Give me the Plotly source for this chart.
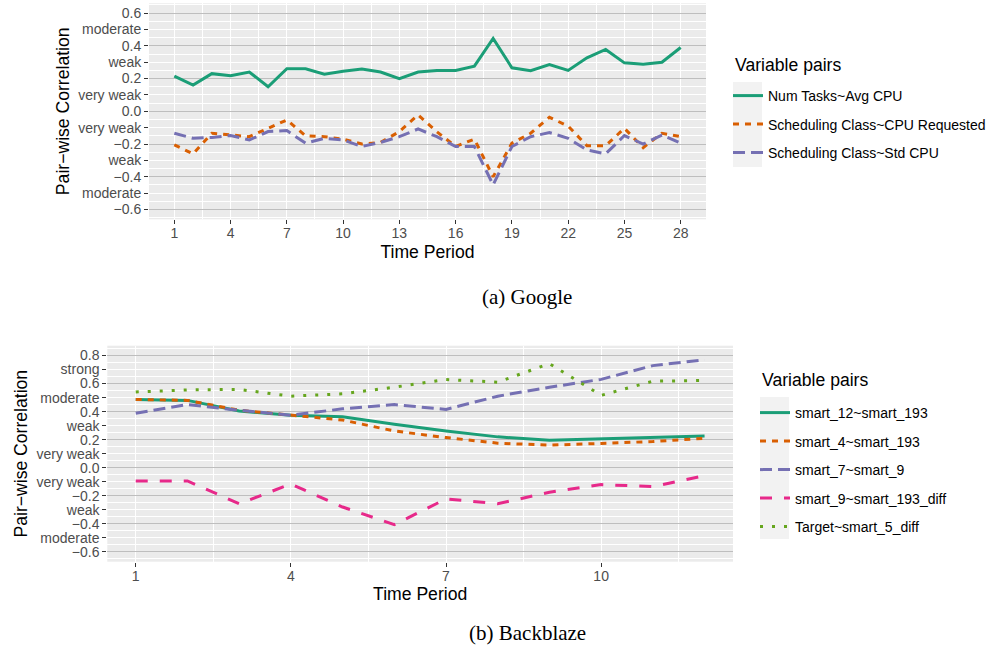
import plotly.graph_objects as go

# ---------------- data ----------------
google_periods = list(range(1, 29))
google_tasks_avg_cpu = [0.215, 0.16, 0.23, 0.217, 0.24, 0.15, 0.26, 0.26, 0.227, 0.245,
                        0.258, 0.24, 0.20, 0.24, 0.25, 0.25, 0.276, 0.445, 0.266, 0.248,
                        0.286, 0.25, 0.327, 0.378, 0.296, 0.288, 0.30, 0.39]
google_sched_cpu_req = [-0.205, -0.26, -0.134, -0.145, -0.155, -0.104, -0.053, -0.15, -0.155, -0.17,
                        -0.2, -0.19, -0.124, -0.022, -0.125, -0.215, -0.17, -0.4, -0.195, -0.134,
                        -0.037, -0.09, -0.21, -0.21, -0.104, -0.222, -0.134, -0.155]
google_sched_std_cpu = [-0.134, -0.165, -0.16, -0.148, -0.175, -0.124, -0.118, -0.195, -0.165, -0.175,
                        -0.215, -0.19, -0.155, -0.108, -0.155, -0.215, -0.215, -0.45, -0.215, -0.155,
                        -0.13, -0.165, -0.236, -0.26, -0.148, -0.2, -0.145, -0.195]
google_names = ["Num Tasks~Avg CPU", "Scheduling Class~CPU Requested", "Scheduling Class~Std CPU"]

bb_periods = list(range(1, 13))
bb_smart12_193 = [0.487, 0.48, 0.404, 0.374, 0.364, 0.31, 0.262, 0.22, 0.196, 0.208, 0.218, 0.227]
bb_smart4_193 = [0.487, 0.48, 0.41, 0.374, 0.34, 0.262, 0.215, 0.175, 0.161, 0.173, 0.187, 0.21]
bb_smart7_9 = [0.388, 0.45, 0.41, 0.374, 0.42, 0.45, 0.416, 0.51, 0.574, 0.63, 0.728, 0.77]
bb_smart9_193diff = [-0.094, -0.094, -0.257, -0.116, -0.28, -0.406, -0.222, -0.257, -0.175, -0.12, -0.135, -0.057]
bb_target_5diff = [0.54, 0.555, 0.558, 0.51, 0.527, 0.574, 0.629, 0.61, 0.742, 0.516, 0.617, 0.622]
bb_names = ["smart_12~smart_193", "smart_4~smart_193", "smart_7~smart_9",
            "smart_9~smart_193_diff", "Target~smart_5_diff"]

top_ytick_vals = [-0.6, -0.5, -0.4, -0.3, -0.2, -0.1, 0.0, 0.1, 0.2, 0.3, 0.4, 0.5, 0.6]
top_ytick_text = ["−0.6", "moderate", "−0.4", "weak", "−0.2", "very weak", "0.0",
                  "very weak", "0.2", "weak", "0.4", "moderate", "0.6"]
bot_ytick_vals = [-0.6, -0.5, -0.4, -0.3, -0.2, -0.1, 0.0, 0.1, 0.2, 0.3, 0.4, 0.5, 0.6, 0.7, 0.8]
bot_ytick_text = ["−0.6", "moderate", "−0.4", "weak", "−0.2", "very weak", "0.0",
                  "very weak", "0.2", "weak", "0.4", "moderate", "0.6", "strong", "0.8"]
top_ref_lines = [-0.6, -0.4, -0.2, 0.0, 0.2, 0.4, 0.6]
bot_ref_lines = [-0.6, -0.4, -0.2, 0.0, 0.2, 0.4, 0.6, 0.8]

# ---------------- styles ----------------
DARK2 = ["#1B9E77", "#D95F02", "#7570B3", "#E7298A", "#66A61E"]
DASHES = ["solid", "6px,6px", "12px,6px", "12px,12px", "3px,9px"]
FONT = "Liberation Sans, Arial, sans-serif"
W, H = 1001, 654
TOP_YR = [-0.66, 0.66]
BOT_YR = [-0.67, 0.87]

fig = go.Figure()

for i, (name, vals) in enumerate(zip(google_names,
                                     [google_tasks_avg_cpu, google_sched_cpu_req, google_sched_std_cpu])):
    fig.add_trace(go.Scatter(x=google_periods, y=vals, mode="lines", name=name,
                             line=dict(color=DARK2[i], width=3, dash=DASHES[i]),
                             xaxis="x", yaxis="y", legend="legend", legendgroup="g%d" % i))

for i, (name, vals) in enumerate(zip(bb_names,
                                     [bb_smart12_193, bb_smart4_193, bb_smart7_9,
                                      bb_smart9_193diff, bb_target_5diff])):
    fig.add_trace(go.Scatter(x=bb_periods, y=vals, mode="lines", name=name,
                             line=dict(color=DARK2[i], width=3, dash=DASHES[i]),
                             xaxis="x2", yaxis="y2", legend="legend2", legendgroup="b%d" % i))

# empty traces so the overlay axes (grey reference grid) are created
fig.add_trace(go.Scatter(x=[], y=[], xaxis="x", yaxis="y3", showlegend=False, hoverinfo="skip"))
fig.add_trace(go.Scatter(x=[], y=[], xaxis="x2", yaxis="y4", showlegend=False, hoverinfo="skip"))


def px_x(p):
    return p / W


def px_y(p):
    return 1 - p / H


tickfont = dict(family=FONT, size=14, color="#4D4D4D")
titlefont = dict(family=FONT, size=17.6, color="black")


def xaxis_cfg(domain, rng, anchor, dtick):
    return dict(domain=domain, range=rng, anchor=anchor, tick0=1, dtick=dtick,
                showgrid=True, gridcolor="white", gridwidth=1.1,
                minor=dict(dtick=dtick / 2, tick0=1, showgrid=True, gridcolor="white", gridwidth=0.5),
                ticks="outside", ticklen=4, tickcolor="#333333", tickwidth=1,
                ticklabelstandoff=-3,
                tickfont=tickfont, zeroline=False, showline=False,
                title=dict(text="Time Period", font=titlefont, standoff=5))


def yaxis_cfg(domain, rng, anchor, vals, text):
    return dict(domain=domain, range=rng, anchor=anchor, tickmode="array",
                tickvals=vals, ticktext=text,
                showgrid=True, gridcolor="white", gridwidth=1.1,
                minor=dict(dtick=0.05, tick0=0, showgrid=True, gridcolor="white", gridwidth=0.5),
                ticks="outside", ticklen=4, tickcolor="#333333", tickwidth=1,
                tickfont=tickfont, zeroline=False, showline=False,
                title=dict(text="Pair−wise Correlation", font=titlefont, standoff=4))


def ref_axis_cfg(overlay, rng, anchor, vals):
    return dict(overlaying=overlay, range=rng, anchor=anchor, side="left",
                tickmode="array", tickvals=vals, showticklabels=False, ticks="",
                showgrid=True, gridcolor="#BEBEBE", gridwidth=1.1,
                zeroline=False, showline=False)


legend_common = dict(bgcolor="rgba(0,0,0,0)", font=dict(family=FONT, size=14, color="black"),
                     traceorder="grouped", tracegroupgap=7.3, xanchor="left", yanchor="top",
                     itemwidth=30)

title_font = dict(family=FONT, size=17.6, color="black")

fig.update_layout(
    width=W, height=H, margin=dict(l=0, r=0, t=0, b=0),
    paper_bgcolor="white", plot_bgcolor="#EBEBEB",
    font=dict(family=FONT),
    xaxis=xaxis_cfg([px_x(149), px_x(706)], [-0.35, 29.35], "y", 3),
    yaxis=yaxis_cfg([px_y(219.3), px_y(3.3)], TOP_YR, "x", top_ytick_vals, top_ytick_text),
    yaxis3=ref_axis_cfg("y", TOP_YR, "x", top_ref_lines),
    xaxis2=xaxis_cfg([px_x(107.3), px_x(733)], [0.45, 12.55], "y2", 3),
    yaxis2=yaxis_cfg([px_y(561.7), px_y(345.7)], BOT_YR, "x2", bot_ytick_vals, bot_ytick_text),
    yaxis4=ref_axis_cfg("y2", BOT_YR, "x2", bot_ref_lines),
    legend=dict(x=px_x(728), y=px_y(80), **legend_common),
    legend2=dict(x=px_x(755), y=px_y(397), **legend_common),
    shapes=[
        dict(type="rect", xref="paper", yref="paper", x0=px_x(733), x1=px_x(762),
             y0=px_y(167), y1=px_y(82), fillcolor="#F2F2F2", line=dict(width=0), layer="below"),
        dict(type="rect", xref="paper", yref="paper", x0=px_x(760), x1=px_x(789),
             y0=px_y(539), y1=px_y(397), fillcolor="#F2F2F2", line=dict(width=0), layer="below"),
    ],
    annotations=[
        dict(text="Variable pairs", xref="paper", yref="paper", x=px_x(733), y=px_y(65),
             xanchor="left", yanchor="middle", showarrow=False, font=title_font),
        dict(text="Variable pairs", xref="paper", yref="paper", x=px_x(760), y=px_y(380),
             xanchor="left", yanchor="middle", showarrow=False, font=title_font),
        dict(text="(a) Google", xref="paper", yref="paper", x=px_x(527), y=px_y(296.5),
             xanchor="center", yanchor="middle",
             showarrow=False, font=dict(family="Liberation Serif, serif", size=21, color="black")),
        dict(text="(b) Backblaze", xref="paper", yref="paper", x=px_x(527), y=px_y(633),
             xanchor="center", yanchor="middle",
             showarrow=False, font=dict(family="Liberation Serif, serif", size=21, color="black")),
    ],
)

fig.write_html("out.html")
